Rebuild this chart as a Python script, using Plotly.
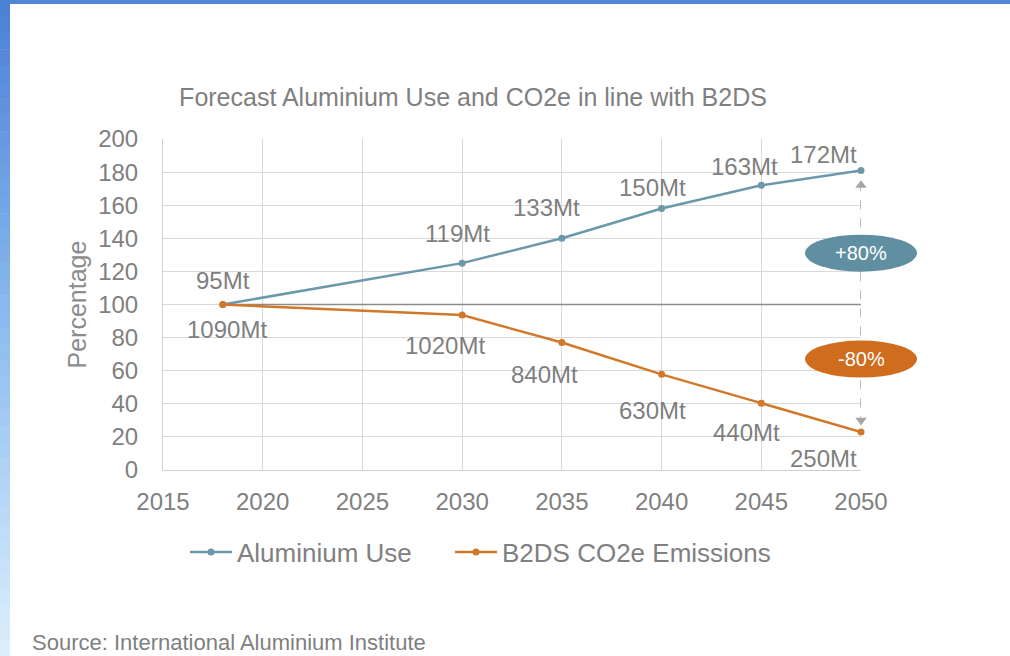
import plotly.graph_objects as go

# ---------------- data ----------------
years = [2018, 2030, 2035, 2040, 2045, 2050]
aluminium_pct = [100, 125, 140, 158, 172, 181]
emissions_pct = [100, 93.6, 77, 57.8, 40.4, 23]
aluminium_labels = ["95Mt", "119Mt", "133Mt", "150Mt", "163Mt", "172Mt"]
emissions_labels = ["1090Mt", "1020Mt", "840Mt", "630Mt", "440Mt", "250Mt"]
baseline_value = 100
arrow_top = 175
arrow_bottom = 27
badge_values = [131, 67]
badge_texts = ["+80%", "-80%"]
x_ticks = [2015, 2020, 2025, 2030, 2035, 2040, 2045, 2050]
y_ticks = [0, 20, 40, 60, 80, 100, 120, 140, 160, 180, 200]
y_max = 200

# ---------------- style ----------------
W, H = 1010, 656
ML, MR, MT, MB = 163, 149, 139, 186
PW, PH = W - ML - MR, H - MT - MB
GRAY = "#7f7f7f"
TEAL = "#6b98aa"
ORANGE = "#d2782a"
TEAL_BADGE = "#5f8fa1"
ORANGE_BADGE = "#cf6c1e"
FONT = "Arial, Liberation Sans, sans-serif"

# label offsets in pixels (dx, dy) relative to the point
alu_off = [(0, 24), (-5, 30), (-15, 31), (-9, 21), (-17, 19), (-38, 16)]
emi_off = [(4, -25), (-17, -30), (-17, -32), (-9, -36), (-15, -29), (-38, -27)]


def px_to_paper_x(px):
    return (px - ML) / PW


def px_to_paper_y(py):
    return (H - MB - py) / PH


fig = go.Figure()

# baseline at 100
fig.add_trace(go.Scatter(
    x=[years[0], years[-1]], y=[baseline_value, baseline_value],
    mode="lines", line=dict(color="#8c8c8c", width=1.5),
    showlegend=False, hoverinfo="skip"))

# dashed arrow
fig.add_trace(go.Scatter(
    x=[years[-1], years[-1]], y=[arrow_bottom, arrow_top],
    mode="lines", line=dict(color="#a6a6a6", width=1.5, dash="dash"),
    showlegend=False, hoverinfo="skip", cliponaxis=False))
fig.add_trace(go.Scatter(
    x=[years[-1], years[-1]], y=[arrow_top - 3, arrow_bottom + 3],
    mode="markers",
    marker=dict(symbol=["triangle-up", "triangle-down"], size=10, color="#a6a6a6"),
    showlegend=False, hoverinfo="skip", cliponaxis=False))

fig.add_trace(go.Scatter(
    x=years, y=aluminium_pct, name="Aluminium Use", legend="legend",
    mode="lines+markers", line=dict(color=TEAL, width=2.5),
    marker=dict(size=7, color=TEAL), cliponaxis=False))
fig.add_trace(go.Scatter(
    x=years, y=emissions_pct, name="B2DS CO2e Emissions", legend="legend2",
    mode="lines+markers", line=dict(color=ORANGE, width=2.5),
    marker=dict(size=7, color=ORANGE), cliponaxis=False))

annotations = []
for x, y, t, (dx, dy) in zip(years, aluminium_pct, aluminium_labels, alu_off):
    annotations.append(dict(x=x, y=y, text=t, showarrow=False, xshift=dx, yshift=dy,
                            font=dict(size=24, color=GRAY, family=FONT)))
for x, y, t, (dx, dy) in zip(years, emissions_pct, emissions_labels, emi_off):
    annotations.append(dict(x=x, y=y, text=t, showarrow=False, xshift=dx, yshift=dy,
                            font=dict(size=24, color=GRAY, family=FONT)))

shapes = []
for v, t, c in zip(badge_values, badge_texts, [TEAL_BADGE, ORANGE_BADGE]):
    shapes.append(dict(type="circle", xref="paper", yref="paper", xsizemode="pixel", ysizemode="pixel",
                       xanchor=1.0, yanchor=v / y_max, x0=-56, x1=56, y0=-18.5, y1=18.5,
                       fillcolor=c, line=dict(width=0), layer="above"))
    annotations.append(dict(x=years[-1], y=v, text=t, showarrow=False,
                            font=dict(size=20, color="white", family=FONT)))

# y axis title
annotations.append(dict(xref="paper", yref="paper", x=px_to_paper_x(76), y=0.5,
                        xanchor="center", yanchor="middle",
                        text="Percentage", textangle=-90, showarrow=False,
                        font=dict(size=25, color="#8c8c8c", family=FONT)))
# source
annotations.append(dict(xref="paper", yref="paper", x=px_to_paper_x(30), y=px_to_paper_y(642),
                        xanchor="left", yanchor="middle", text="Source: International Aluminium Institute",
                        showarrow=False, font=dict(size=22, color="#808080", family=FONT)))

# blue frame: top bar and left gradient bar
shapes.append(dict(type="rect", xref="paper", yref="paper", layer="above",
                   x0=px_to_paper_x(0), x1=px_to_paper_x(W), y0=px_to_paper_y(4), y1=px_to_paper_y(0),
                   fillcolor="#4f86d6", line=dict(width=0)))
stops = [(0.0, (74, 128, 212)), (0.5, (140, 188, 240)), (1.0, (222, 239, 252))]
N = 40
for i in range(N):
    f = (i + 0.5) / N
    if f <= 0.5:
        a, b, t = stops[0][1], stops[1][1], f / 0.5
    else:
        a, b, t = stops[1][1], stops[2][1], (f - 0.5) / 0.5
    col = "rgb(%d,%d,%d)" % tuple(round(a[k] + (b[k] - a[k]) * t) for k in range(3))
    shapes.append(dict(type="rect", xref="paper", yref="paper", layer="above",
                       x0=px_to_paper_x(0), x1=px_to_paper_x(10),
                       y0=px_to_paper_y(H * (i + 1) / N + 0.5), y1=px_to_paper_y(H * i / N),
                       fillcolor=col, line=dict(width=0)))

legend_style = dict(orientation="h", yanchor="middle", xanchor="left",
                    font=dict(size=26, color="#808080"), itemwidth=42,
                    bgcolor="rgba(0,0,0,0)")

fig.update_layout(
    width=W, height=H,
    margin=dict(l=ML, r=MR, t=MT, b=MB),
    paper_bgcolor="white", plot_bgcolor="white",
    font=dict(family=FONT, color=GRAY),
    title=dict(text="Forecast Aluminium Use and CO2e in line with B2DS",
               xref="paper", x=px_to_paper_x(473), xanchor="center",
               yref="container", y=1 - 97 / H, yanchor="middle",
               font=dict(size=25, color="#808080", family=FONT)),
    xaxis=dict(range=[2015, 2050], tickvals=x_ticks, showgrid=True, gridcolor="#d9d9d9",
               showline=True, linecolor="#d0d0d0", zeroline=False,
               tickfont=dict(size=24, color="#808080"), ticklabelstandoff=10),
    yaxis=dict(range=[0, y_max], tickvals=y_ticks, showgrid=True, gridcolor="#d9d9d9",
               showline=True, linecolor="#d0d0d0", zeroline=False,
               tickfont=dict(size=24, color="#808080"), ticklabelstandoff=19),
    legend=dict(legend_style, x=px_to_paper_x(185), y=px_to_paper_y(552)),
    legend2=dict(legend_style, x=px_to_paper_x(450), y=px_to_paper_y(552)),
    annotations=annotations,
    shapes=shapes,
)

fig.write_html("out.html", config={"displayModeBar": False},
               post_script="document.body.style.margin='0';document.body.style.overflow='hidden';")
